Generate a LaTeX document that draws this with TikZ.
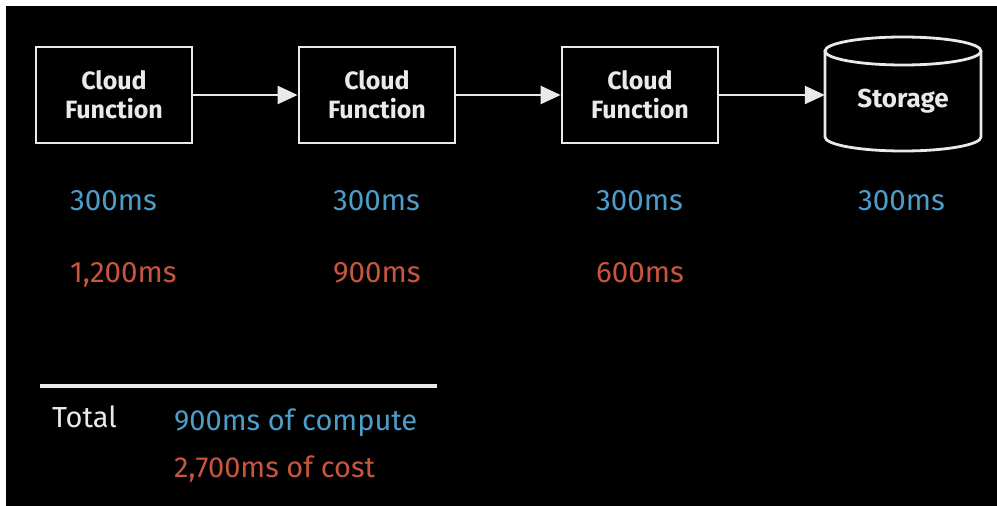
\documentclass[tikz,border=0pt]{standalone}
\usepackage{fontspec}
\setmainfont{Fira Sans}
\usetikzlibrary{arrows.meta}
\definecolor{inkwhite}{HTML}{EAEAEA}
\definecolor{computeblue}{HTML}{4C9DC8}
\definecolor{costred}{HTML}{C9553E}
\tikzset{
  fnbox/.style={draw=inkwhite, line width=2.8pt, minimum width=156pt, minimum height=96pt,
    inner sep=0pt, align=center, text=inkwhite, font=\fontsize{25}{29}\selectfont\bfseries},
  flow/.style={draw=inkwhite, line width=2.4pt, -{Triangle[length=20pt,width=18pt]}},
  stepval/.style={anchor=base west, inner sep=0pt, font=\fontsize{29.5}{34}\selectfont},
  sumval/.style={anchor=base west, inner sep=0pt, font=\fontsize{29}{34}\selectfont},
}
\begin{document}
\begin{tikzpicture}[x=1pt, y=-1pt]
  \useasboundingbox (0,0) rectangle (997,506);
  \fill[white] (0,0) rectangle (997,506);
  \fill[black] (6,6) rectangle (997,506);

  % three function boxes
  \node[fnbox] (f1) at (114,95) {Cloud\\Function};
  \node[fnbox] (f2) at (377,95) {Cloud\\Function};
  \node[fnbox] (f3) at (640,95) {Cloud\\Function};

  % storage cylinder
  \node[inner sep=0pt, minimum width=156pt, minimum height=99pt, text=inkwhite,
        font=\fontsize{26}{30}\selectfont\bfseries] (st) at (903,101) {Storage};
  \draw[inkwhite, line width=2.8pt]
    (825,51) -- (825,137) arc[start angle=180, end angle=0, x radius=78, y radius=14]
    -- (981,51);
  \draw[inkwhite, line width=2.8pt] (903,51) ellipse[x radius=78, y radius=14];

  % flow arrows
  \draw[flow] (f1.east) -- (f2.west);
  \draw[flow] (f2.east) -- (f3.west);
  \draw[flow] (f3.east) -- (f3.east -| st.west);

  % per-step timings
  \node[stepval, text=computeblue] (c1) at (70,210) {300ms};
  \node[stepval, text=computeblue] (c2) at (333,210) {300ms};
  \node[stepval, text=computeblue] (c3) at (596,210) {300ms};
  \node[stepval, text=computeblue] (c4) at (858,210) {300ms};
  \node[stepval, text=costred] (r1) at (70,282) {1,200ms};
  \node[stepval, text=costred] (r2) at (333,282) {900ms};
  \node[stepval, text=costred] (r3) at (596,282) {600ms};

  % totals
  \coordinate (rl) at (40,386);
  \coordinate (rr) at (437,386);
  \draw[inkwhite, line width=3.8pt] (rl) -- (rr);
  \node[sumval, text=inkwhite] (tot) at (52,427) {Total};
  \node[sumval, text=computeblue] (tc) at (174,430) {900ms of compute};
  \node[sumval, text=costred] (tr) at (174,477) {2,700ms of cost};
\end{tikzpicture}
\end{document}
